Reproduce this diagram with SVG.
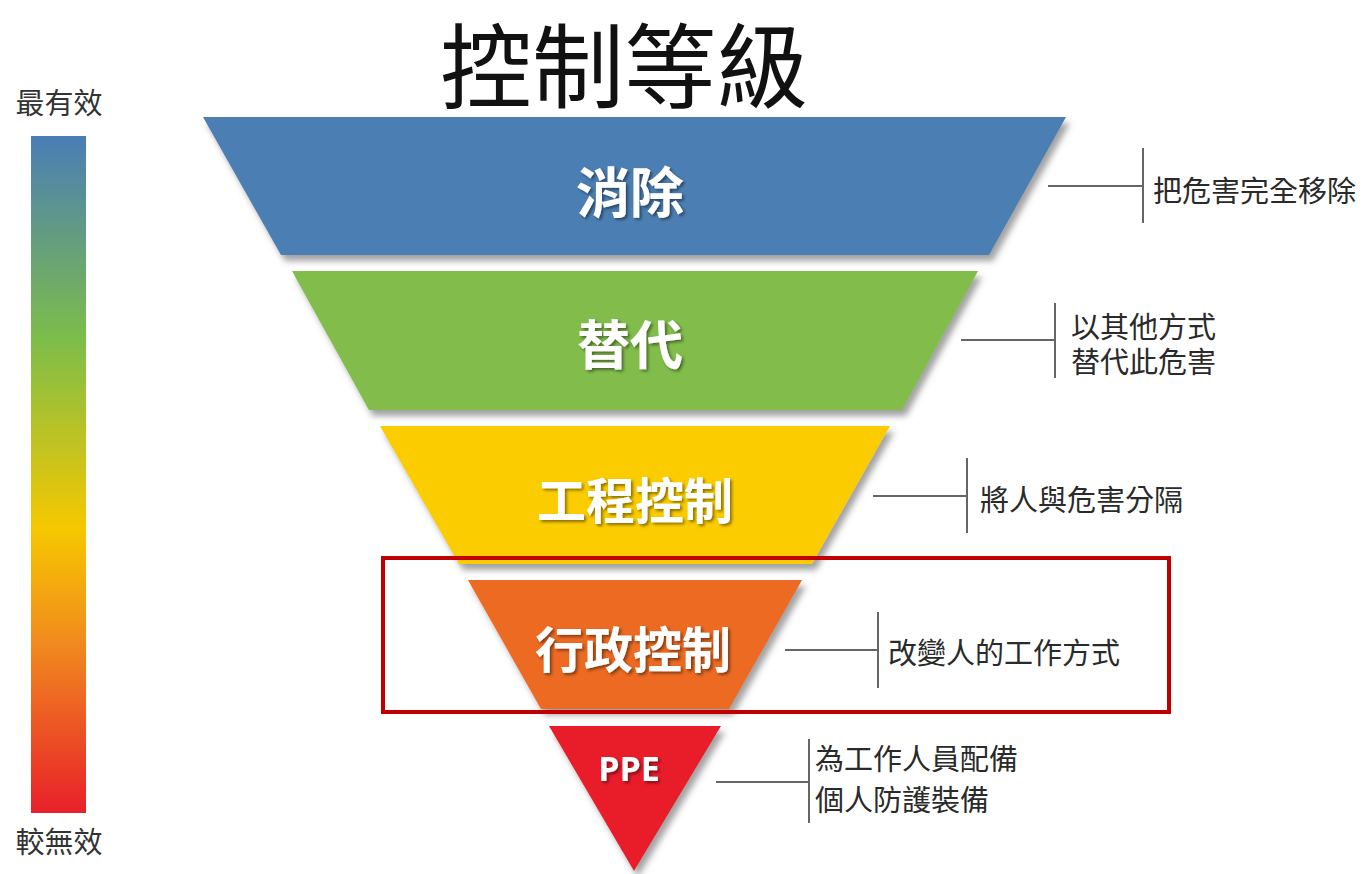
<svg xmlns="http://www.w3.org/2000/svg" width="1366" height="874" viewBox="0 0 1366 874">
  <defs>
    <linearGradient id="scale" x1="0" y1="0" x2="0" y2="1">
      <stop offset="0" stop-color="#4a7db6"/>
      <stop offset="0.3" stop-color="#7dbd4a"/>
      <stop offset="0.58" stop-color="#f6c800"/>
      <stop offset="0.75" stop-color="#f18a1e"/>
      <stop offset="1" stop-color="#e8202a"/>
    </linearGradient>
    <filter id="shapeShadow" x="-10%" y="-10%" width="125%" height="130%">
      <feDropShadow dx="4" dy="6" stdDeviation="3" flood-color="#555" flood-opacity="0.55"/>
    </filter>
    <filter id="textShadow" x="-10%" y="-10%" width="130%" height="140%">
      <feDropShadow dx="2" dy="2" stdDeviation="1.5" flood-color="#000" flood-opacity="0.45"/>
    </filter>
  </defs>
  <style>
    .title { font-family: "Noto Sans CJK TC", "Noto Sans CJK SC", sans-serif; font-size: 92px; fill: #111; }
    .side { font-family: "Noto Sans CJK TC", "Noto Sans CJK SC", sans-serif; font-size: 29px; fill: #333; }
    .layer { font-family: "Noto Sans CJK TC", "Noto Sans CJK SC", sans-serif; font-weight: bold; fill: #fff; text-anchor: middle; filter: url(#textShadow); }
    .desc { font-family: "Noto Sans CJK TC", "Noto Sans CJK SC", sans-serif; font-size: 29px; fill: #2a2a2a; }
    .conn { fill: none; stroke: #666; stroke-width: 2; }
    .shape { filter: url(#shapeShadow); }
  </style>
  <rect width="1366" height="874" fill="#fff"/>

  <text class="title" x="624" y="60" text-anchor="middle" dominant-baseline="central">控制等級</text>

  <g id="scale-bar">
    <text class="side" x="59" y="101" text-anchor="middle" dominant-baseline="central">最有效</text>
    <rect x="31" y="136" width="55" height="677" fill="url(#scale)"/>
    <text class="side" x="59" y="840" text-anchor="middle" dominant-baseline="central">較無效</text>
  </g>

  <g id="elimination">
    <polygon class="shape" points="203,117 1066,117 989,255 281,255" fill="#4b7fb3"/>
    <text class="layer" x="630" y="189" font-size="54" dominant-baseline="central">消除</text>
  </g>
  <g id="substitution">
    <polygon class="shape" points="292,271 978,271 902,410 369,410" fill="#82bd4c"/>
    <text class="layer" x="630" y="342" font-size="53" dominant-baseline="central">替代</text>
  </g>
  <g id="engineering">
    <polygon class="shape" points="380,426 890,426 812,564 459,564" fill="#fbcc05"/>
    <text class="layer" x="635" y="497" font-size="49" dominant-baseline="central">工程控制</text>
  </g>
  <g id="administrative">
    <polygon class="shape" points="468,580 802,580 729,709 541,709" fill="#ec6a23"/>
    <text class="layer" x="633" y="646" font-size="49" dominant-baseline="central">行政控制</text>
  </g>
  <g id="ppe">
    <polygon class="shape" points="549,726 721,726 634,871" fill="#e91e2b"/>
    <text x="629" y="781" font-family="'Open Sans', 'Liberation Sans', sans-serif" font-weight="bold" font-size="34" fill="#fff" text-anchor="middle" filter="url(#textShadow)">PPE</text>
  </g>

  <g id="connectors">
    <path class="conn" d="M1048,186 H1143 M1143,148 V223"/>
    <path class="conn" d="M961,340 H1055 M1055,303 V378"/>
    <path class="conn" d="M873,496 H967 M967,458 V533"/>
    <path class="conn" d="M785,650 H878 M878,612 V688"/>
    <path class="conn" d="M716,782 H809 M809,739 V823"/>
  </g>

  <g id="descriptions">
    <text class="desc" x="1153" y="189" dominant-baseline="central">把危害完全移除</text>
    <text class="desc" x="1071" y="325" dominant-baseline="central">以其他方式</text>
    <text class="desc" x="1071" y="360" dominant-baseline="central">替代此危害</text>
    <text class="desc" x="980" y="498" dominant-baseline="central">將人與危害分隔</text>
    <text class="desc" x="888" y="651" dominant-baseline="central">改變人的工作方式</text>
    <text class="desc" x="815" y="757" dominant-baseline="central">為工作人員配備</text>
    <text class="desc" x="815" y="798" dominant-baseline="central">個人防護裝備</text>
  </g>

  <g id="highlight">
    <rect x="383" y="558" width="786" height="154" fill="none" stroke="#c00000" stroke-width="4"/>
  </g>
</svg>
